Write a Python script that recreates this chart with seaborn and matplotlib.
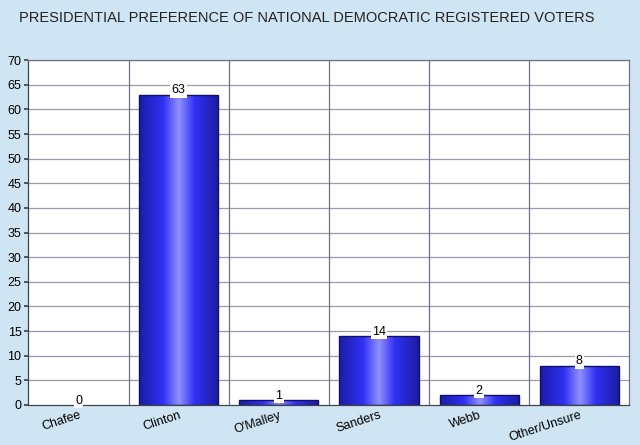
import numpy as np
import pandas as pd
import matplotlib
matplotlib.use("Agg")
import matplotlib.pyplot as plt
import matplotlib.transforms as mtransforms
from matplotlib.colors import LinearSegmentedColormap
import seaborn as sns

candidates = ["Chafee", "Clinton", "O'Malley", "Sanders", "Webb", "Other/Unsure"]
percent = [0, 63, 1, 14, 2, 8]
yticks = list(range(0, 75, 5))

df = pd.DataFrame({"candidate": candidates, "percent": percent})

sns.set_theme(style="white")
plt.rcParams['font.family'] = ['Liberation Sans', 'DejaVu Sans']

bg = "#cfe5f4"
fig = plt.figure(figsize=(6.4, 4.45), dpi=100, facecolor=bg)
ax = fig.add_axes([0.0445, 0.0899, 0.939, 0.775])
ax.set_facecolor("white")

sns.barplot(data=df, x="candidate", y="percent", ax=ax, width=0.79,
            color="#3030f0", edgecolor="#10106a", linewidth=1.0)

cmap = LinearSegmentedColormap.from_list(
    "bargrad",
    [(0.0, "#1c1ca8"), (0.3, "#3030f4"), (0.5, "#9090ff"), (0.7, "#3030f4"), (1.0, "#1c1ca0")])
grad = np.linspace(0, 1, 256).reshape(1, -1)
for p in ax.patches:
    x0, w, h = p.get_x(), p.get_width(), p.get_height()
    if h <= 0:
        p.set_linewidth(0)
        p.set_facecolor("none")
        continue
    im = ax.imshow(grad, cmap=cmap, aspect="auto", extent=[x0, x0 + w, 0, h],
                   zorder=p.get_zorder(), interpolation="bicubic")
    im.set_clip_path(p)
    p.set_facecolor("none")
    p.set_zorder(p.get_zorder() + 0.1)

for i, v in enumerate(percent):
    ax.text(i, v + 0.9, str(v), ha="center", va="center", fontsize=9, color="black",
            bbox=dict(facecolor="white", edgecolor="none", pad=1.0), zorder=5)

ax.set_xlim(-0.5, len(candidates) - 0.5)
ax.set_ylim(0, 70)
ax.set_yticks(yticks)
ax.set_yticklabels([str(t) for t in yticks], fontsize=9, color="black")
ax.set_xticks(range(len(candidates)))
ax.set_xticklabels(candidates, rotation=18, ha="right", rotation_mode="anchor",
                   fontsize=9, color="black")
offset = mtransforms.ScaledTranslation(6 / 100, 0, fig.dpi_scale_trans)
for lbl in ax.get_xticklabels():
    lbl.set_transform(lbl.get_transform() + offset)
ax.tick_params(axis="x", pad=3, length=0)
ax.tick_params(axis="y", pad=2, length=3, left=True, color="#444444")

ax.set_xlabel("")
ax.set_ylabel("")
for y in yticks[1:]:
    ax.axhline(y, color="#9a9ab0", linewidth=0.9, zorder=0)
for xb in np.arange(0.5, len(candidates) - 0.5, 1):
    ax.axvline(xb, color="#707088", linewidth=0.9, zorder=0)

for s in ax.spines.values():
    s.set_color("#707088")
    s.set_linewidth(0.9)
ax.spines["left"].set_color("#444444")
ax.spines["bottom"].set_color("#444444")
ax.set_axisbelow(True)

fig.text(0.03, 0.975, "PRESIDENTIAL PREFERENCE OF NATIONAL DEMOCRATIC REGISTERED VOTERS",
         ha="left", va="top", fontsize=10.5, color="#222222")

fig.savefig("out.png", dpi=100, facecolor=bg)
